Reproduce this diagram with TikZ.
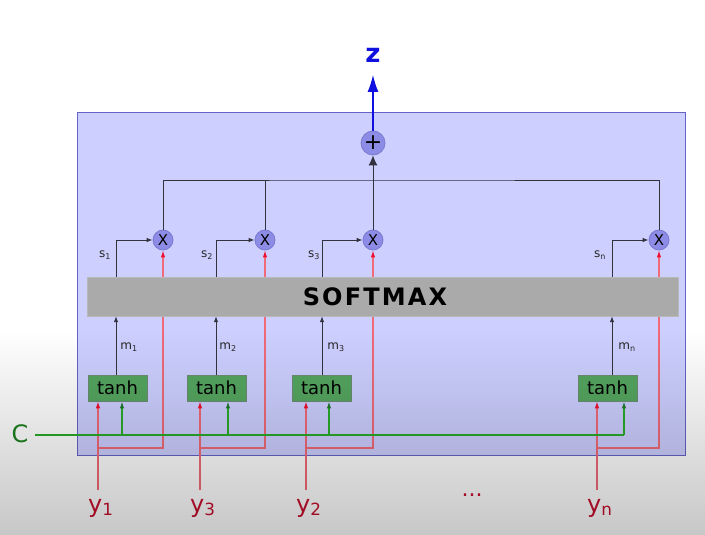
\documentclass[tikz,border=0pt]{standalone}
\usepackage{fontspec}
\setmainfont{DejaVu Sans}
\usetikzlibrary{arrows.meta,fadings}
\definecolor{boxfill}{HTML}{CDCFFF}
\definecolor{boxborder}{HTML}{6464C8}
\definecolor{circfill}{HTML}{8C8CE6}
\definecolor{circborder}{HTML}{7A7AD0}
\definecolor{softfill}{HTML}{AAAAAA}
\definecolor{softborder}{HTML}{B8B8B8}
\definecolor{tanhfill}{HTML}{55A660}
\definecolor{tanhborder}{HTML}{6E8C74}
\definecolor{redline}{HTML}{F06A78}
\definecolor{redtip}{HTML}{F01030}
\definecolor{redtext}{HTML}{C8102E}
\definecolor{greenline}{HTML}{2AAA2A}
\definecolor{greentip}{HTML}{1E7A2A}
\definecolor{greentext}{HTML}{1E821E}
\definecolor{zblue}{HTML}{1010E0}
\definecolor{linegray}{HTML}{33333F}
\newcommand\fs[1]{\fontsize{#1}{#1}\selectfont}
\pgfdeclarelayer{back}
\pgfsetlayers{back,main}
\begin{document}
\begin{tikzpicture}[x=1pt,y=-1pt,
  conn/.style={draw=linegray, line width=0.9pt},
  sarr/.style={-{Latex[length=6pt,width=4.5pt]}},
  rarr/.style={-{Latex[length=7pt,width=4.5pt,fill=redtip,color=redtip]}},
  garr/.style={-{Latex[length=7pt,width=4.5pt,fill=greentip,color=greentip]}},
  redl/.style={draw=redline, line width=1.1pt},
  greenl/.style={draw=greenline, line width=1.3pt},
  frame/.style={draw=boxborder, fill=boxfill, line width=0.9pt, inner sep=0pt},
  circ/.style={circle, draw=circborder, fill=circfill, line width=0.8pt, inner sep=0pt},
  softbox/.style={draw=softborder, fill=softfill, inner sep=0pt},
  softtext/.style={inner sep=0pt, font=\fs{24}\bfseries\addfontfeature{LetterSpace=9}},
  tanhbox/.style={draw=tanhborder, fill=tanhfill, line width=0.8pt, inner sep=0pt, minimum width=59pt, minimum height=26pt, font=\fs{18}},
  lab/.style={inner sep=0pt, font=\fs{12}, text=black!85},
  ylab/.style={inner sep=0pt, anchor=base west, font=\fs{24}, text=redtext}
]
\useasboundingbox (0,0) rectangle (705,535);
\begin{pgfonlayer}{back}
\fill[white] (0,0) rectangle (705,535);
\node[frame, minimum width=608pt, minimum height=343pt] (frame) at (381,283.5) {};
\end{pgfonlayer}

% top
\node[circ, minimum size=24pt, font=\fs{22}] (plus) at (373,143) {+};
\node[inner sep=0pt, font=\fs{26}\bfseries, text=zblue] (z) at (373,55) {z};
\coordinate (ztip) at (373,75);
\draw[draw=zblue, line width=1.1pt, -{Latex[length=17pt,width=11pt]}] (plus.north) -- (ztip);
\coordinate (top) at (373,180);

\node[softbox, minimum width=591pt, minimum height=39pt] (soft) at (382.5,296.5) {};
\node[softtext] (softlab) at (375,296.5) {SOFTMAX};

\foreach \i/\sx/\mx/\rx/\gx/\tx/\slx/\mlx/\yt in
  {1/116/163/98/122/117.5/105/129/1, 2/216/265/200/228/216.5/207/228/3,
   3/322/373/306/329/321.5/314/336/2, n/612/659/597/624/607.5/600/627/n}{
  \node[circ, minimum size=20pt, font=\fs{15}] (x\i) at (\mx,240) {X};
  \node[tanhbox] (t\i) at (\tx,388) {tanh};
  \coordinate (s\i) at (\sx,277);
  \coordinate (r\i) at (\rx,490);
  \coordinate (rs\i) at (\rx,448);
  \coordinate (g\i) at (\gx,435);
  % s arrows
  \draw[conn, sarr] (s\i |- soft.north) |- (x\i.west);
  \node[lab] (sl\i) at (\slx,255) {s\textsubscript{\i}};
  % m arrows
  \draw[conn, sarr] (s\i |- t\i.north) -- (s\i |- soft.south);
  \node[lab] (ml\i) at (\mlx,347) {m\textsubscript{\i}};
  % red branch to multiplier (behind the softmax box)
  \begin{pgfonlayer}{back}
  \draw[redl] (rs\i) -| (x\i |- soft.south);
  \end{pgfonlayer}
  \draw[redl, rarr] (x\i |- soft.north) -- (x\i.south);
  % red input to tanh
  \draw[redl, rarr] (r\i) -- (r\i |- t\i.south);
  \node[ylab] (y\i) at (\rx-10,512) {y\textsubscript{\yt}};
  % green input
  \draw[greenl, garr] (g\i) -- (g\i |- t\i.south);
}
% top connectors
\draw[conn] (x1.north) |- (top) -| (xn.north);
\draw[conn] (x2.north) -- (x2.north |- top);
\draw[conn, -{Latex[length=10pt,width=9pt]}] (x3.north) -- (plus.south);

% C line
\node[inner sep=0pt, font=\fs{24}, text=greentext] (C) at (20,434) {C};
\coordinate (c0) at (35,435);
\draw[greenl] (c0) -- (gn);

\node[inner sep=0pt, font=\fs{22}, text=redtext] (dots) at (472,495) {...};

% bottom shading
\fill[black, opacity=0.22, path fading=north] (0,330) rectangle (705,535);
\end{tikzpicture}
\end{document}
